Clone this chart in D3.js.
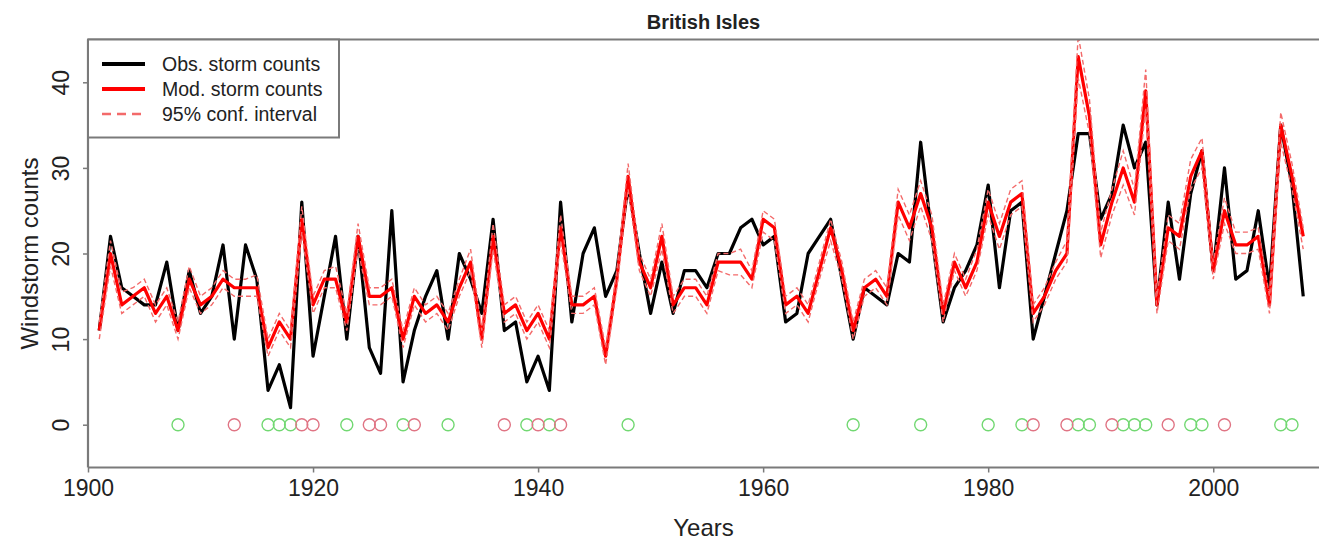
<!DOCTYPE html>
<html><head><meta charset="utf-8">
<script src="https://cdn.jsdelivr.net/npm/d3@7"></script>
<style>body{margin:0;background:#fff;} svg{display:block;font-family:"Liberation Sans",Arial,sans-serif;}</style>
</head><body><svg id="c" width="1319" height="544"></svg>
<script>
const startYear = 1901;
const obsCounts = [11,22,16,15,14,14,19,11,18,13,15,21,10,21,17,4,7,2,26,8,
  15,22,10,22,9,6,25,5,11,15,18,10,20,17,13,24,11,12,5,8,
  4,26,12,20,23,15,18,28,20,13,19,13,18,18,16,20,20,23,24,21,
  22,12,13,20,22,24,17,10,16,15,14,20,19,33,22,12,16,18,21,28,
  16,25,26,10,15,20,25,34,34,24,27,35,30,33,14,26,17,27,32,18,
  30,17,18,25,16,35,28,15];
const modCounts = [11,20,14,15,16,13,15,11,17,14,15,17,16,16,16,9,12,10,24,14,
  17,17,12,22,15,15,16,10,15,13,14,12,16,19,10,22,13,14,11,13,
  10,23,14,14,15,8,17,29,19,16,22,14,16,16,14,19,19,19,17,24,
  23,14,15,13,18,23,18,11,16,17,15,26,23,27,23,13,19,16,19,26,
  22,26,27,13,15,18,20,43,36,21,26,30,26,39,14,23,22,29,32,18,
  25,21,21,22,14,35,29,22];
const ciLower = [10,18.5,13,14,15,12,14,10,16,13,14,16,15,15,15,8,11,9,22.5,13,
  16,16,11,20.5,14,14,15,9,14,12,13,11,15,18,9,20.5,12,13,10,12,
  9,21.5,13,13,14,7,16,27.5,18,15,20.5,13,15,15,13,18,17.5,17.5,16,22.5,
  21.5,13,14,12,17,21.5,17,10,15,16,14,24.5,21.5,25.5,21.5,12,18,15,18,24.5,
  20.5,24.5,25.5,12,14,17,19,40.5,34,19.5,24.5,28,24.5,37,13,21.5,20.5,27.5,30,17,
  23.5,20,20,20.5,13,33,27.5,20.5];
const ciUpper = [12,21.5,15.5,16,17,14,16,12,18.5,15,16,18,17,17,17.5,10,13,11,25.5,15,
  18,18.5,13,23.5,16,16,17,11,16,14,15,13,17,20.5,11,23.5,14,15,12,14,
  11,24.5,15,15,16,9,18,30.5,20,17,23.5,15,17,17,15,20,20,20.5,18,25,
  24,15,16,14,19,24,19,12,17,18,16,27.5,24.5,28.5,24.5,14,20,17,20.5,27.5,
  23.5,27.5,28.5,14,16,19,21.5,45.5,38,22.5,27.5,32,27.5,41.5,15,24.5,23.5,31,33.5,19,
  26.5,22.5,22.5,23,15,36.5,30.5,23];
const greenYears = [1908,1916,1917,1918,1923,1928,1932,1939,1941,1948,1968,1974,1980,1983,1988,1989,1992,1993,1994,1998,1999,2006,2007];
const redYears = [1913,1919,1920,1925,1926,1929,1937,1940,1942,1984,1987,1991,1996,2001];
const xTicks = [1900,1920,1940,1960,1980,2000];
const yTicks = [0,10,20,30,40];
const legendLabels = ["Obs. storm counts","Mod. storm counts","95% conf. interval"];

const years = obsCounts.map((d,i)=>startYear+i);
const svg = d3.select("#c");
const L = 88, R = 1319, T = 39.5, B = 467.5;
const x = d3.scaleLinear().domain([1900, 2009.4]).range([L, R]);
const y = d3.scaleLinear().domain([-5, 45]).range([B, T]);
const txtCol = "#222";

svg.append("defs").append("clipPath").attr("id","clip")
  .append("rect").attr("x",L).attr("y",T).attr("width",R-L).attr("height",B-T);

const plot = svg.append("g").attr("clip-path","url(#clip)");
const line = arr => d3.line().x((d,i)=>x(years[i])).y(d=>y(d))(arr);

plot.append("path").attr("d",line(obsCounts)).attr("fill","none")
  .attr("stroke","#000").attr("stroke-width",3.2).attr("stroke-linejoin","round");
plot.append("path").attr("d",line(modCounts)).attr("fill","none")
  .attr("stroke","#f00").attr("stroke-width",3.2).attr("stroke-linejoin","round");
[ciLower, ciUpper].forEach(a=>{
  plot.append("path").attr("d",line(a)).attr("fill","none")
    .attr("stroke","#f36a6a").attr("stroke-width",1.4).attr("stroke-dasharray","5,3");
});

plot.selectAll("circle.g").data(greenYears).join("circle").attr("class","g")
  .attr("cx",d=>x(d)).attr("cy",y(0)).attr("r",6)
  .attr("fill","none").attr("stroke","#72d872").attr("stroke-width",1.4);
plot.selectAll("circle.r").data(redYears).join("circle").attr("class","r")
  .attr("cx",d=>x(d)).attr("cy",y(0)).attr("r",6)
  .attr("fill","none").attr("stroke","#e07484").attr("stroke-width",1.4);

// frame
const axCol = "#7a7a7a";
svg.append("line").attr("x1",L).attr("x2",R).attr("y1",T).attr("y2",T).attr("stroke",axCol).attr("stroke-width",2.2);
svg.append("line").attr("x1",L).attr("x2",R).attr("y1",B).attr("y2",B).attr("stroke",axCol).attr("stroke-width",2.2);
svg.append("line").attr("x1",L).attr("x2",L).attr("y1",T).attr("y2",B).attr("stroke",axCol).attr("stroke-width",2.2);

// axes
const xa = svg.append("g").attr("transform",`translate(0,${B})`)
  .call(d3.axisBottom(x).tickValues(xTicks).tickFormat(d3.format("d")).tickSize(5).tickPadding(7));
xa.select(".domain").remove();
xa.selectAll("line").attr("stroke",axCol).attr("stroke-width",1.5);
xa.selectAll("text").attr("font-size",23).attr("fill",txtCol)
  .attr("font-family","'Liberation Sans',Arial,sans-serif");

const ya = svg.append("g").attr("transform",`translate(${L},0)`)
  .call(d3.axisLeft(y).tickValues(yTicks).tickSize(5));
ya.select(".domain").remove();
ya.selectAll("line").attr("stroke",axCol).attr("stroke-width",1.5);
ya.selectAll("text").remove();
ya.selectAll(".tick").append("text")
  .attr("transform","translate(-19,0) rotate(-90)")
  .attr("text-anchor","middle").attr("fill",txtCol).attr("font-size",23)
  .attr("font-family","'Liberation Sans',Arial,sans-serif")
  .text(d=>d);

// labels
svg.append("text").attr("x",(L+R)/2).attr("y",536).attr("text-anchor","middle")
  .attr("font-size",24).attr("fill",txtCol).text("Years");
svg.append("text").attr("transform",`translate(38,${(T+B)/2}) rotate(-90)`)
  .attr("text-anchor","middle").attr("font-size",24).attr("fill",txtCol).text("Windstorm counts");
svg.append("text").attr("x",(L+R)/2).attr("y",29).attr("text-anchor","middle")
  .attr("font-size",20).attr("font-weight","bold").attr("fill",txtCol).text("British Isles");

// legend
const lg = svg.append("g");
lg.append("rect").attr("x",L).attr("y",T).attr("width",251).attr("height",98)
  .attr("fill","#fff").attr("stroke",axCol).attr("stroke-width",2);
const lstyles = [{c:"#000",w:4,da:null},{c:"#f00",w:4,da:null},{c:"#f36a6a",w:2.5,da:"9,6"}];
legendLabels.forEach((t,i)=>{
  const yy = 64 + i*25;
  lg.append("line").attr("x1",102).attr("x2",145).attr("y1",yy).attr("y2",yy)
    .attr("stroke",lstyles[i].c).attr("stroke-width",lstyles[i].w)
    .attr("stroke-dasharray",lstyles[i].da);
  lg.append("text").attr("x",162).attr("y",yy+7).attr("font-size",19.5).attr("fill",txtCol).text(t);
});
</script></body></html>
